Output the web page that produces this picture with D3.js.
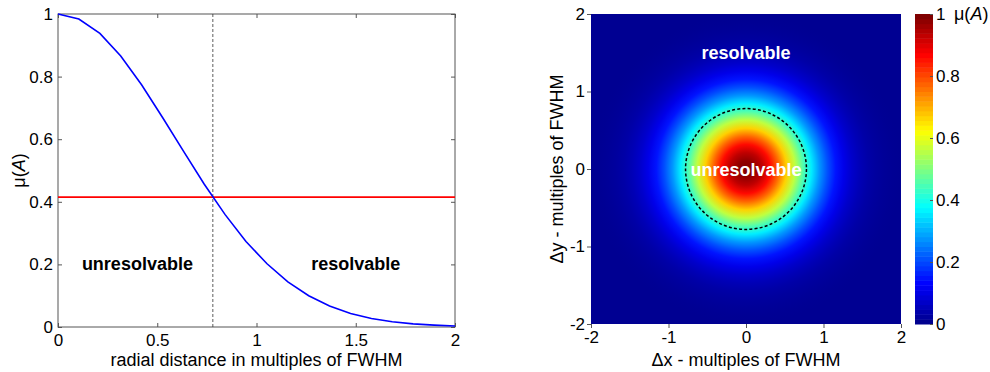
<!DOCTYPE html>
<html>
<head>
<meta charset="utf-8">
<script src="https://cdn.jsdelivr.net/npm/d3@7"></script>
<style>
  body { margin: 0; background: #fff; }
  svg { font-family: "Liberation Sans", Arial, sans-serif; }
</style>
</head>
<body>
<svg id="chart" width="990" height="372"></svg>
<script>
// radial profile (20 samples, 0..2 FWHM)
const rDist= [0, 0.105, 0.211, 0.316, 0.421, 0.526, 0.632, 0.737, 0.842, 0.947,
  1.053, 1.158, 1.263, 1.368, 1.474, 1.579, 1.684, 1.789, 1.895, 2];
const muVals= [1, 0.984, 0.938, 0.866, 0.774, 0.670, 0.562, 0.456, 0.359, 0.273,
  0.202, 0.144, 0.100, 0.067, 0.043, 0.027, 0.017, 0.010, 0.006, 0.003];
const muCross= 0.415;
const rCross= 0.78;

const xTicksL= [0, 0.5, 1, 1.5, 2];
const yTicksL= [0, 0.2, 0.4, 0.6, 0.8, 1];
const ticksR= [-2, -1, 0, 1, 2];
const cbTicks= [0, 0.2, 0.4, 0.6, 0.8, 1];
const cbLevels= 64;

// jet colormap breakpoints
const jetStops= [0, 0.125, 0.375, 0.625, 0.875, 1];
const jetColors= ['#00008f', '#0000ff', '#00ffff', '#ffff00', '#ff0000', '#800000'];

const svg= d3.select('#chart');
const axisCol= '#555';
const fmt= d => String(d);
const jet= d3.scaleLinear().domain(jetStops).range(jetColors).clamp(true);

function styleAxis(g, size) {
  g.select('.domain').remove();
  g.selectAll('.tick line').attr('stroke', axisCol);
  g.selectAll('text').attr('fill', '#000').style('font-size', size+'px');
  g.attr('font-family', null);
}

// ---------- left panel ----------
const xL= d3.scaleLinear().domain([0, 2]).range([58, 455]);
const yL= d3.scaleLinear().domain([0, 1]).range([327, 14]);
const gL= svg.append('g');

gL.append('g').attr('transform', `translate(0,${yL(0)})`)
  .call(d3.axisBottom(xL).tickValues(xTicksL).tickSizeInner(-4).tickSizeOuter(0).tickPadding(7).tickFormat(fmt))
  .call(g => styleAxis(g, 17));
gL.append('g').attr('transform', `translate(0,${yL(1)})`)
  .call(d3.axisTop(xL).tickValues(xTicksL).tickSizeInner(-4).tickSizeOuter(0).tickFormat(''))
  .call(g => styleAxis(g, 17));
gL.append('g').attr('transform', `translate(${xL(0)},0)`)
  .call(d3.axisLeft(yL).tickValues(yTicksL).tickSizeInner(-4).tickSizeOuter(0).tickPadding(5).tickFormat(fmt))
  .call(g => styleAxis(g, 17));
gL.append('g').attr('transform', `translate(${xL(2)},0)`)
  .call(d3.axisRight(yL).tickValues(yTicksL).tickSizeInner(-4).tickSizeOuter(0).tickFormat(''))
  .call(g => styleAxis(g, 17));

gL.append('rect')
  .attr('x', xL(0)).attr('y', yL(1))
  .attr('width', xL(2)-xL(0)).attr('height', yL(0)-yL(1))
  .attr('fill', 'none').attr('stroke', axisCol).attr('stroke-width', 1);

gL.append('line')
  .attr('x1', xL(rCross)).attr('x2', xL(rCross))
  .attr('y1', yL(1)).attr('y2', yL(0))
  .attr('stroke', '#333').attr('stroke-width', 0.8).attr('stroke-dasharray', '3,2');

gL.append('line')
  .attr('x1', xL(0)).attr('x2', xL(2))
  .attr('y1', yL(muCross)).attr('y2', yL(muCross))
  .attr('stroke', '#ff0000').attr('stroke-width', 1.6);

const line= d3.line()
  .x((_, i) => xL(rDist[i]))
  .y(v => yL(v));
gL.append('path').datum(muVals)
  .attr('d', line)
  .attr('fill', 'none').attr('stroke', '#0000ff').attr('stroke-width', 1.6);

gL.append('text').attr('x', xL(0.4)).attr('y', yL(0.2)+6)
  .attr('text-anchor', 'middle').style('font-size', '18px').style('font-weight', 'bold')
  .text('unresolvable');
gL.append('text').attr('x', xL(1.5)).attr('y', yL(0.2)+6)
  .attr('text-anchor', 'middle').style('font-size', '18px').style('font-weight', 'bold')
  .text('resolvable');

gL.append('text').attr('x', (xL(0)+xL(2))/2).attr('y', 365.5)
  .attr('text-anchor', 'middle').style('font-size', '18px')
  .text('radial distance in multiples of FWHM');

const yLab= gL.append('text')
  .attr('transform', `translate(25,${(yL(0)+yL(1))/2}) rotate(-90)`)
  .attr('text-anchor', 'middle').style('font-size', '18px');
yLab.append('tspan').text('μ(');
yLab.append('tspan').style('font-style', 'italic').text('A');
yLab.append('tspan').text(')');

// ---------- right panel (2D map) ----------
const xR= d3.scaleLinear().domain([-2, 2]).range([591, 901]);
const yR= d3.scaleLinear().domain([-2, 2]).range([324, 14]);
const gR= svg.append('g');

const grad= svg.append('defs').append('radialGradient')
  .attr('id', 'psf').attr('gradientUnits', 'userSpaceOnUse')
  .attr('cx', xR(0)).attr('cy', yR(0))
  .attr('fx', xR(0)).attr('fy', yR(0))
  .attr('r', xR(2)-xR(0));
grad.selectAll('stop').data(muVals).join('stop')
  .attr('offset', (_, i) => rDist[i]/2)
  .attr('stop-color', v => jet(v));

gR.append('rect')
  .attr('x', xR(-2)).attr('y', yR(2))
  .attr('width', xR(2)-xR(-2)).attr('height', yR(-2)-yR(2))
  .attr('fill', 'url(#psf)');

gR.append('circle')
  .attr('cx', xR(0)).attr('cy', yR(0)).attr('r', xR(rCross)-xR(0))
  .attr('fill', 'none').attr('stroke', '#000').attr('stroke-width', 1.5)
  .attr('stroke-dasharray', '3,2.2');

gR.append('text').attr('x', xR(0)).attr('y', yR(1.5)+6)
  .attr('text-anchor', 'middle').attr('fill', '#fff')
  .style('font-size', '18px').style('font-weight', 'bold').text('resolvable');
gR.append('text').attr('x', xR(0)).attr('y', yR(0)+7)
  .attr('text-anchor', 'middle').attr('fill', '#fff')
  .style('font-size', '18px').style('font-weight', 'bold').text('unresolvable');

gR.append('g').attr('transform', `translate(0,${yR(-2)})`)
  .call(d3.axisBottom(xR).tickValues(ticksR).tickSizeInner(4).tickSizeOuter(0).tickPadding(3).tickFormat(fmt))
  .call(g => styleAxis(g, 17));
gR.append('g').attr('transform', `translate(${xR(-2)},0)`)
  .call(d3.axisLeft(yR).tickValues(ticksR).tickSizeInner(4).tickSizeOuter(0).tickPadding(2).tickFormat(fmt))
  .call(g => styleAxis(g, 17));

gR.append('text').attr('x', (xR(-2)+xR(2))/2).attr('y', 365.5)
  .attr('text-anchor', 'middle').style('font-size', '18px')
  .text('Δx - multiples of FWHM');
gR.append('text')
  .attr('transform', `translate(563,${(yR(-2)+yR(2))/2}) rotate(-90)`)
  .attr('text-anchor', 'middle').style('font-size', '18px')
  .text('Δy - multiples of FWHM');

// ---------- colorbar ----------
const yC= d3.scaleLinear().domain([0, 1]).range([324, 14]);
const cbX0= 915, cbX1= 933;
const gC= svg.append('g');
gC.selectAll('rect.lvl').data(d3.range(cbLevels)).join('rect')
  .attr('class', 'lvl')
  .attr('x', cbX0).attr('width', cbX1-cbX0)
  .attr('y', i => yC((i+1)/cbLevels)).attr('height', i => yC(i/cbLevels)-yC((i+1)/cbLevels)+0.5)
  .attr('fill', i => jet(i/(cbLevels-1)));
gC.append('g').attr('transform', `translate(${cbX1},0)`)
  .call(d3.axisRight(yC).tickValues(cbTicks).tickSizeInner(-3).tickSizeOuter(0).tickPadding(3).tickFormat(fmt))
  .call(g => styleAxis(g, 17));

const cbLab= gC.append('text').attr('x', 954).attr('y', yC(1)+6).style('font-size', '18px');
cbLab.append('tspan').text('μ(');
cbLab.append('tspan').style('font-style', 'italic').text('A');
cbLab.append('tspan').text(')');
</script>
</body>
</html>
